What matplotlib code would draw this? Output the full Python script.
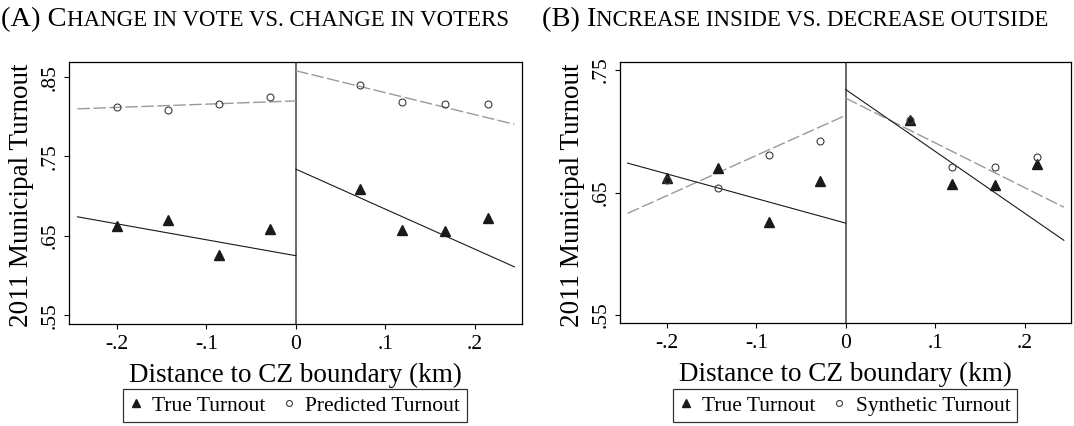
import numpy as np
import matplotlib
matplotlib.use("Agg")
import matplotlib.pyplot as plt
from matplotlib.lines import Line2D

plt.rcParams['font.family'] = ['Liberation Serif', 'DejaVu Serif']

# bin centres (km)
x_left = [-0.2, -0.143, -0.086, -0.029]
x_right = [0.0715, 0.119, 0.167, 0.2145]

# binned turnout
true_left = [0.662, 0.670, 0.626, 0.659]
true_right = [0.709, 0.657, 0.656, 0.673]
pred_left = [0.812, 0.809, 0.816, 0.8245]
pred_right = [0.8395, 0.818, 0.816, 0.816]
synth_left = [0.660, 0.654, 0.6805, 0.692]
synth_right = [0.709, 0.671, 0.671, 0.679]

# linear fits, value at the outer edge and at the boundary
fit_x_left = [-0.244, 0.0]
fit_x_right = [0.0, 0.244]
fit_true_left = [0.674, 0.625]
fit_true_right = [0.734, 0.611]
fit_pred_left = [0.810, 0.820]
fit_pred_right = [0.858, 0.7905]
fit_synth_left = [0.633, 0.713]
fit_synth_right = [0.727, 0.638]

x_ticks = [-0.2, -0.1, 0, 0.1, 0.2]
x_ticklabels = ['-.2', '-.1', '0', '.1', '.2']

W, H = 1074, 426
fig = plt.figure(figsize=(W / 100, H / 100), dpi=100)


def px_axes(l, t, r, b):
    return fig.add_axes([l / W, (H - b) / H, (r - l) / W, (b - t) / H])


def panel(ax, other_left, other_right, fit_o_left, fit_o_right, other_name,
          ylim, yticks, xlim, legend_cx, ylab_x):
    ax.axvline(0, color='#5e5e5e', lw=1.3, zorder=1)
    dash_kw = dict(color='#9a9a9a', lw=1.0, dashes=(9, 2.5), zorder=2)
    ax.plot(fit_x_left, fit_o_left, **dash_kw)
    ax.plot(fit_x_right, fit_o_right, **dash_kw)
    ax.plot(fit_x_left, fit_true_left, color='#1a1a1a', lw=0.8, zorder=2)
    ax.plot(fit_x_right, fit_true_right, color='#1a1a1a', lw=0.8, zorder=2)
    tri = dict(marker='^', ls='none', ms=7, color='#1a1a1a', zorder=3)
    circ = dict(marker='o', ls='none', ms=5, mfc='none', mec='#3c3c3c',
                mew=0.8, zorder=4)
    ax.plot(x_left, true_left, **tri)
    ax.plot(x_right, true_right, **tri)
    ax.plot(x_left, other_left, **circ)
    ax.plot(x_right, other_right, **circ)

    ax.set_xlim(*xlim)
    ax.set_ylim(*ylim)
    ax.set_xticks(x_ticks)
    ax.set_xticklabels(x_ticklabels)
    ax.set_yticks(yticks)
    ax.set_yticklabels(['.' + f"{v:.2f}".split('.')[1] for v in yticks],
                       rotation=90, va='center')
    ax.tick_params(direction='out', length=3.6, width=0.8, labelsize=15.5,
                   color='black')
    ax.tick_params(axis='x', pad=4.3)
    ax.tick_params(axis='y', pad=3.0)
    for s in ax.spines.values():
        s.set_linewidth(0.9)
        s.set_color('black')

    ax.set_ylabel('2011 Municipal Turnout', fontsize=19.5, va='center')
    ax.yaxis.set_label_coords(ylab_x, 0.49)
    ax.set_xlabel('Distance to CZ boundary (km)', fontsize=19.5)
    ax.xaxis.set_label_coords(0.5, -0.222)
    ax.xaxis.label.set_va('baseline')

    # legend keys are a little smaller than the plotted markers
    handles = [Line2D([], [], **dict(tri, ms=5.5)),
               Line2D([], [], **dict(circ, ms=4.3))]
    leg = ax.legend(handles, ['True Turnout', other_name], ncol=2,
                    loc='upper center',
                    bbox_to_anchor=(legend_cx / W, (H - 389) / H),
                    bbox_transform=fig.transFigure, fontsize=15.5,
                    frameon=True, fancybox=False, borderpad=0.3,
                    handlelength=0.6, handletextpad=0.45, columnspacing=0.8,
                    borderaxespad=0)
    leg.get_frame().set_edgecolor('black')
    leg.get_frame().set_linewidth(0.9)


axA = px_axes(69, 62, 522, 324)
panel(axA, pred_left, pred_right, fit_pred_left, fit_pred_right,
      'Predicted Turnout', (0.539, 0.869), [0.55, 0.65, 0.75, 0.85],
      (-0.2535, 0.2525), 295, (21.5 - 69) / 453)

axB = px_axes(620, 62, 1071, 323)
panel(axB, synth_left, synth_right, fit_synth_left, fit_synth_right,
      'Synthetic Turnout', (0.5435, 0.7565), [0.55, 0.65, 0.75],
      (-0.2525, 0.252), 845, (573 - 620) / 451)

# small-caps titles, built piece by piece
renderer = fig.canvas.get_renderer()


def smallcaps(x_px, base_px, parts):
    x = x_px / W
    for txt, size in parts:
        t = fig.text(x, (H - base_px) / H, txt, fontsize=size, va='baseline',
                     ha='left')
        bb = t.get_window_extent(renderer=renderer)
        x = bb.x1 / W


smallcaps(1, 26, [('(A) C', 20.5), ('HANGE IN VOTE VS. CHANGE IN VOTERS', 16.5)])
smallcaps(542, 26, [('(B) I', 20.5), ('NCREASE INSIDE VS. DECREASE OUTSIDE', 16.5)])

fig.savefig('out.png', dpi=100)
